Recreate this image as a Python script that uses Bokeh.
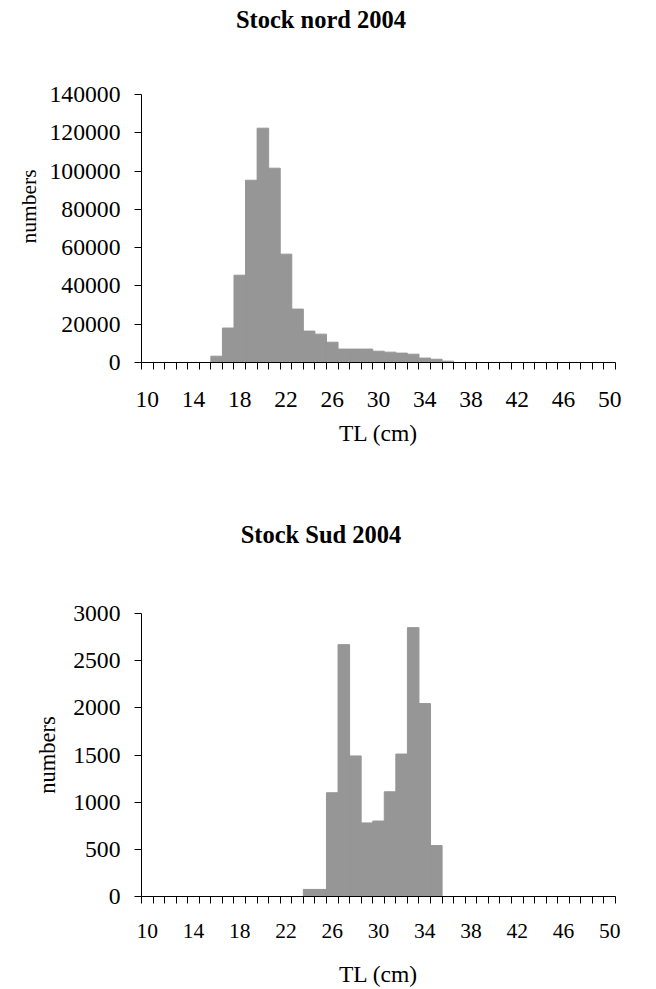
from bokeh.plotting import figure
from bokeh.models import FixedTicker, ColumnDataSource, Div, Title
from bokeh.layouts import column
from bokeh.embed import file_html
from bokeh.resources import INLINE

# ---- data ----
tl = list(range(10, 51))
nord = [0, 0, 0, 0, 0, 0,
        3300, 18000, 45600, 95200, 122400, 101500, 56600, 27900, 16400,
        14800, 10600, 7000, 7000, 7000, 5900, 5400, 4900, 4350, 2300, 1700, 700,
        0, 0, 0, 0, 0, 0, 0, 0, 0, 0, 0, 0, 0, 0]
sud = [0, 0, 0, 0, 0, 0, 0, 0, 0, 0, 0, 0, 0, 0,
       75, 75, 1100, 2670, 1490, 780, 800, 1110, 1510, 2850, 2045, 540,
       0, 0, 0, 0, 0, 0, 0, 0, 0, 0, 0, 0, 0, 0, 0]
x_tick_labels = list(range(10, 51, 4))
nord_y_ticks = list(range(0, 140001, 20000))
sud_y_ticks = list(range(0, 3001, 500))
titles = ["Stock nord 2004", "Stock Sud 2004"]

FONT = "Liberation Serif"
BAR = "#969696"


def title_div(text, height, pad_top):
    return Div(text=text, width=642, height=height, margin=0,
               styles={"font-family": FONT, "font-weight": "bold",
                       "font-size": "24.5px", "line-height": "30px",
                       "text-align": "center", "color": "black",
                       "padding-top": f"{pad_top}px",
                       "box-sizing": "border-box"})


def style(p, yticks, xlab_size, xlab_standoff, xaxis_label_standoff):
    p.xgrid.grid_line_color = None
    p.ygrid.grid_line_color = None
    p.outline_line_color = None
    p.background_fill_color = "white"
    p.border_fill_color = "white"

    xa = p.xaxis[0]
    xa.ticker = FixedTicker(ticks=x_tick_labels,
                            minor_ticks=[t - 0.5 for t in tl] + [tl[-1] + 0.5])
    xa.major_tick_out = 0
    xa.major_tick_in = 0
    xa.minor_tick_out = 7
    xa.minor_tick_in = 0
    xa.minor_tick_line_color = "black"
    xa.axis_line_color = "black"
    xa.major_label_text_font = FONT
    xa.major_label_text_font_size = xlab_size
    xa.major_label_text_color = "black"
    xa.major_label_standoff = xlab_standoff
    xa.axis_label = "TL (cm)"
    xa.axis_label_text_font = FONT
    xa.axis_label_text_font_size = "23.5px"
    xa.axis_label_text_font_style = "normal"
    xa.axis_label_text_color = "black"
    xa.axis_label_standoff = xaxis_label_standoff

    ya = p.yaxis[0]
    ya.ticker = FixedTicker(ticks=yticks, minor_ticks=[])
    ya.major_label_overrides = {v: str(v) for v in yticks}
    ya.major_tick_out = 7
    ya.major_tick_in = 0
    ya.minor_tick_out = 0
    ya.minor_tick_in = 0
    ya.major_tick_line_color = "black"
    ya.axis_line_color = "black"
    ya.major_label_text_font = FONT
    ya.major_label_text_font_size = "23.7px"
    ya.major_label_text_color = "black"
    ya.major_label_standoff = 14


def y_title(p, align, offset, standoff, size):
    p.add_layout(Title(text="numbers", align=align, offset=offset,
                       standoff=standoff, text_font=FONT,
                       text_font_size=size, text_font_style="normal",
                       text_color="black"), "left")


# ---- top chart ----
d1 = title_div(titles[0], 40, 5)
p1 = figure(width=656, height=430, x_range=(9.5, 50.5), y_range=(0, 140000),
            output_backend="svg", toolbar_location=None,
            min_border_left=141, min_border_right=11,
            min_border_top=54, min_border_bottom=108)
src1 = ColumnDataSource(dict(tl=tl, v=nord))
p1.vbar(x="tl", top="v", width=1, source=src1, fill_color=BAR,
        line_color=BAR, line_width=1)
style(p1, nord_y_ticks, "23.5px", 22, 10)
y_title(p1, "left", 119, 12, "21.5px")

# ---- bottom chart ----
d2 = title_div(titles[1], 80, 50)
p2 = figure(width=656, height=439, x_range=(9.5, 50.5), y_range=(0, 3000),
            output_backend="svg", toolbar_location=None,
            min_border_left=137, min_border_right=41,
            min_border_top=63, min_border_bottom=92)
src2 = ColumnDataSource(dict(tl=tl, v=sud))
p2.vbar(x="tl", top="v", width=1, source=src2, fill_color=BAR,
        line_color=BAR, line_width=1)
style(p2, sud_y_ticks, "21.5px", 20, 20)
y_title(p2, "center", 0, 21, "22.5px")

layout = column(d1, p1, d2, p2)
open("out.html", "w").write(file_html(layout, INLINE))
